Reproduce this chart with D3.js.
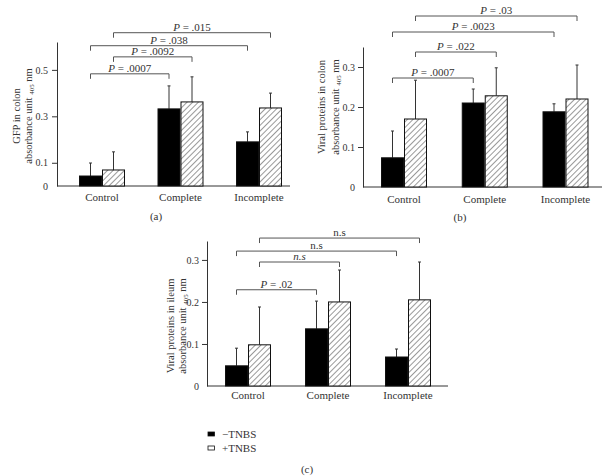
<!DOCTYPE html>
<html><head><meta charset="utf-8">
<script src="https://cdn.jsdelivr.net/npm/d3@7"></script>
<style>
html,body{margin:0;padding:0;background:#fff;}
svg{display:block;}
</style></head>
<body><svg id="chart" width="615" height="476"></svg>
<script>
const categories = ["Control", "Complete", "Incomplete"];
const seriesNames = ["\u2212TNBS", "+TNBS"];

// (a) GFP in colon
const gfpMinus = [0.043, 0.332, 0.190];
const gfpMinusErr = [0.056, 0.099, 0.043];
const gfpPlus = [0.069, 0.362, 0.336];
const gfpPlusErr = [0.078, 0.108, 0.064];
// (b) Viral proteins in colon
const colonMinus = [0.073, 0.210, 0.188];
const colonMinusErr = [0.067, 0.035, 0.020];
const colonPlus = [0.170, 0.228, 0.220];
const colonPlusErr = [0.097, 0.070, 0.085];
// (c) Viral proteins in ileum
const ileumMinus = [0.048, 0.136, 0.069];
const ileumMinusErr = [0.042, 0.066, 0.019];
const ileumPlus = [0.098, 0.200, 0.205];
const ileumPlusErr = [0.090, 0.076, 0.090];

const ticksA = [0, 0.1, 0.3, 0.5];
const ticksBC = [0, 0.1, 0.2, 0.3];

// brackets: [from category, from series], [to category, to series], height (data units), label
const bracketsA = [
  {from: [0, 0], to: [1, 0], level: 0.483, label: "P = .0007"},
  {from: [0, 1], to: [1, 1], level: 0.556, label: "P = .0092"},
  {from: [0, 0], to: [2, 0], level: 0.604, label: "P = .038"},
  {from: [0, 1], to: [2, 1], level: 0.66, label: "P = .015"}
];
const bracketsB = [
  {from: [0, 0], to: [1, 0], level: 0.2725, label: "P = .0007"},
  {from: [0, 1], to: [1, 1], level: 0.3375, label: "P = .022"},
  {from: [0, 0], to: [2, 0], level: 0.3875, label: "P = .0023"},
  {from: [0, 1], to: [2, 1], level: 0.4275, label: "P = .03"}
];
const bracketsC = [
  {from: [0, 0], to: [1, 0], level: 0.229, label: "P = .02"},
  {from: [0, 1], to: [1, 1], level: 0.295, label: "n.s", italic: true},
  {from: [0, 0], to: [2, 0], level: 0.321, label: "n.s"},
  {from: [0, 1], to: [2, 1], level: 0.352, label: "n.s"}
];

const panels = [
  {title: "GFP in colon", minus: gfpMinus, minusErr: gfpMinusErr, plus: gfpPlus, plusErr: gfpPlusErr,
   ticks: ticksA, brackets: bracketsA, tag: "(a)", ymax: 0.62,
   layout: {axisX: 57, axisEnd: 290, yRange: [186, 42], centers: [102, 259], yLab: [16, 28], yLabY: 116, catY: 201, tagXY: [156, 220], pad: 4}},
  {title: "Viral proteins in colon", minus: colonMinus, minusErr: colonMinusErr, plus: colonPlus, plusErr: colonPlusErr,
   ticks: ticksBC, brackets: bracketsB, tag: "(b)", ymax: 0.35,
   layout: {axisX: 363, axisEnd: 602, yRange: [187, 47], centers: [404, 565.5], yLab: [321, 335], yLabY: 107, catY: 203, tagXY: [460, 221], pad: 3}},
  {title: "Viral proteins in ileum", minus: ileumMinus, minusErr: ileumMinusErr, plus: ileumPlus, plusErr: ileumPlusErr,
   ticks: ticksBC, brackets: bracketsC, tag: "(c)", ymax: 0.345,
   layout: {axisX: 207, axisEnd: 448, yRange: [386, 241], centers: [248, 408], yLab: [170, 182], yLabY: 326, catY: 399, tagXY: [307, 473], pad: 3}}
];

const FONT = "'Liberation Serif', 'Times New Roman', serif";
const svg = d3.select("#chart").attr("font-family", FONT);
const defs = svg.append("defs");
defs.append("pattern")
  .attr("id", "hatch").attr("patternUnits", "userSpaceOnUse")
  .attr("width", 4).attr("height", 4)
  .attr("patternTransform", "rotate(45)")
  .call(p => {
    p.append("rect").attr("width", 4).attr("height", 4).attr("fill", "#fff");
    p.append("line").attr("x1", 0).attr("y1", 0).attr("x2", 0).attr("y2", 4)
      .attr("stroke", "#444").attr("stroke-width", 1.1);
  });

const ink = "#333";
const fs = 11;

panels.forEach(pn => {
  const L = pn.layout;
  const g = svg.append("g");
  const y = d3.scaleLinear().domain([0, pn.ymax]).range(L.yRange);
  const xc = d3.scalePoint().domain(categories).range(L.centers);
  const xs = d3.scaleBand().domain(seriesNames).range([-23, 23]).padding(0);
  const bw = xs.bandwidth();
  const cx = (ci, si) => xc(categories[ci]) + xs(seriesNames[si]) + bw / 2;

  // y axis
  const yAxis = d3.axisLeft(y).tickValues(pn.ticks).tickSize(5).tickSizeOuter(0).tickPadding(L.pad)
    .tickFormat(d => d === 0 ? "0" : d3.format(".1f")(d));
  const ya = g.append("g").attr("transform", `translate(${L.axisX},0)`).call(yAxis)
    .attr("font-family", FONT).attr("font-size", 10);
  ya.select(".domain").attr("stroke", ink);
  ya.selectAll(".tick line").attr("stroke", ink).attr("opacity", d => d === 0 ? 0 : 1);
  ya.selectAll(".tick text").attr("fill", ink);

  // x axis baseline
  g.append("line").attr("x1", L.axisX).attr("x2", L.axisEnd)
    .attr("y1", y(0)).attr("y2", y(0)).attr("stroke", ink);
  // category labels
  g.selectAll("text.cat").data(categories).join("text").attr("class", "cat")
    .attr("x", d => xc(d)).attr("y", L.catY).attr("text-anchor", "middle")
    .attr("font-size", fs).attr("fill", ink).text(d => d);

  const rows = [];
  categories.forEach((c, ci) => {
    rows.push({ci, si: 0, v: pn.minus[ci], e: pn.minusErr[ci]});
    rows.push({ci, si: 1, v: pn.plus[ci], e: pn.plusErr[ci]});
  });
  g.selectAll("line.err").data(rows).join("line").attr("class", "err")
    .attr("x1", d => cx(d.ci, d.si)).attr("x2", d => cx(d.ci, d.si))
    .attr("y1", d => y(d.v)).attr("y2", d => y(d.v + d.e)).attr("stroke", ink).attr("stroke-width", 1);
  g.selectAll("line.cap").data(rows).join("line").attr("class", "cap")
    .attr("x1", d => cx(d.ci, d.si) - 1.5).attr("x2", d => cx(d.ci, d.si) + 1.5)
    .attr("y1", d => y(d.v + d.e)).attr("y2", d => y(d.v + d.e)).attr("stroke", ink).attr("stroke-width", 1);
  g.selectAll("rect.bar").data(rows).join("rect").attr("class", "bar")
    .attr("x", d => xc(categories[d.ci]) + xs(seriesNames[d.si]) + 0.5)
    .attr("width", bw - 1)
    .attr("y", d => y(d.v)).attr("height", d => y(0) - y(d.v))
    .attr("fill", d => d.si === 0 ? "#000" : "url(#hatch)")
    .attr("stroke", "#111").attr("stroke-width", 1);

  pn.brackets.forEach(b => {
    const x1 = cx(b.from[0], b.from[1]), x2 = cx(b.to[0], b.to[1]), yy = y(b.level);
    g.append("path").attr("d", `M${x1},${yy + 5}V${yy}H${x2}V${yy + 5}`)
      .attr("fill", "none").attr("stroke", "#555").attr("stroke-width", 1);
    const t = g.append("text").attr("x", (x1 + x2) / 2).attr("y", yy - 2)
      .attr("text-anchor", "middle").attr("font-size", fs).attr("fill", ink);
    if (b.label.startsWith("P")) {
      t.append("tspan").attr("font-style", "italic").text("P");
      t.append("tspan").text(b.label.slice(1));
    } else {
      t.text(b.label).attr("font-style", b.italic ? "italic" : "normal");
    }
  });

  const yl = g.append("g").attr("transform", `rotate(-90)`);
  yl.append("text").attr("x", -L.yLabY).attr("y", L.yLab[0]).attr("dy", "0.35em")
    .attr("text-anchor", "middle").attr("font-size", 10.5).attr("fill", ink).text(pn.title);
  const t2 = yl.append("text").attr("x", -L.yLabY).attr("y", L.yLab[1]).attr("dy", "0.35em")
    .attr("text-anchor", "middle").attr("font-size", 10.5).attr("fill", ink);
  t2.append("tspan").text("absorbance unit ");
  t2.append("tspan").attr("font-size", 7).attr("dy", 2).text("405");
  t2.append("tspan").attr("dy", -2).text(" nm");

  g.append("text").attr("x", L.tagXY[0]).attr("y", L.tagXY[1]).attr("text-anchor", "middle")
    .attr("font-size", fs).attr("fill", ink).text(pn.tag);
});

const leg = svg.append("g");
seriesNames.forEach((s, i) => {
  const yy = 432 + i * 14;
  leg.append("rect").attr("x", 208).attr("y", yy).attr("width", 6.5).attr("height", 4)
    .attr("fill", i === 0 ? "#000" : "#fff").attr("stroke", "#111").attr("stroke-width", 0.8);
  leg.append("text").attr("x", 222).attr("y", yy + 6).attr("font-size", fs).attr("fill", ink).text(s);
});
</script></body></html>
